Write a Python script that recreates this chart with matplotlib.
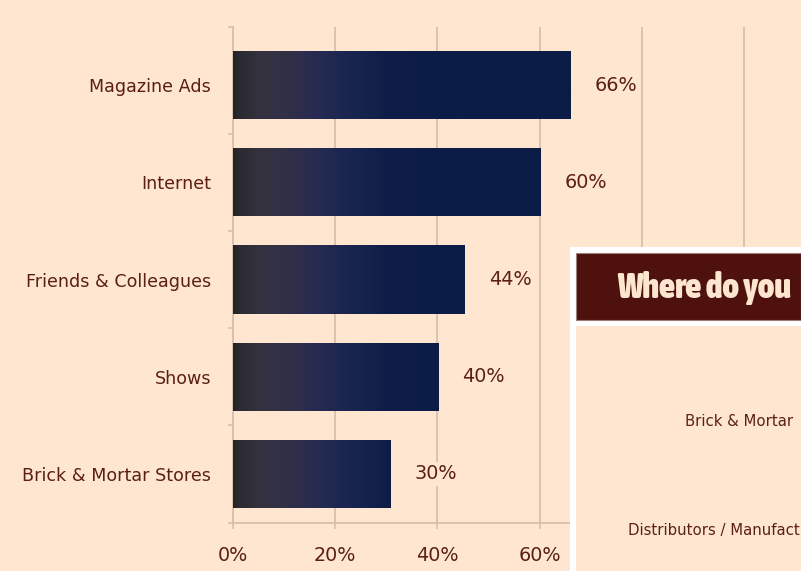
import numpy as np
import matplotlib
matplotlib.use("Agg")
import matplotlib.pyplot as plt
from matplotlib.patches import Rectangle
from matplotlib import font_manager as fm

# ---- data ----
categories = ["Brick & Mortar Stores", "Shows", "Friends & Colleagues", "Internet", "Magazine Ads"]
values = [30.8, 40.1, 45.3, 60.1, 65.9]
value_labels = ["30%", "40%", "44%", "60%", "66%"]
xticks = [0, 20, 40, 60, 80, 100]
xtick_labels = ["0%", "20%", "40%", "60%", "80%", "100%"]
panel_title = "Where do you"
panel_labels = ["Brick & Mortar", "Distributors / Manufacturers"]

BG = "#FEE6D1"
TXT = "#5C1F16"
GRID = "#D6BCAB"
NAVY = (11/255, 28/255, 70/255)

# pick a condensed bold font for the panel title if one exists
title_font = None
cands = []
for f in fm.fontManager.ttflist:
    nm = f.name.lower()
    st = str(f.stretch).lower()
    if ("narrow" in nm or "condensed" in nm or "condensed" in st or "narrow" in st):
        w = f.weight if isinstance(f.weight, int) else (700 if "bold" in str(f.weight) else 400)
        cands.append((-w, f.fname, f))
if cands:
    cands.sort(key=lambda t: (t[0], t[1]))
    title_font = fm.FontProperties(fname=cands[0][2].fname)

W, H = 801, 571
fig = plt.figure(figsize=(W/100, H/100), dpi=100, facecolor=BG)

def fx(px):
    return px / W

def fy(py):
    return 1 - py / H

x0, xr = 232.7, 801
ytop, ybot = 26.7, 523
ax = fig.add_axes([fx(x0), fy(ybot), fx(xr - x0), (ybot - ytop) / H])
ax.set_facecolor(BG)
ppu = 5.115  # pixels per percent
ax.set_xlim(0, (xr - x0) / ppu)
ax.set_ylim(-0.504, 4.6)

ypos = np.arange(len(categories))
bar_h = 0.70

# gradient stops (percent units, rgb)
stops_x = [0, 1, 5, 10, 15, 22, 30, 40, 200]
stops_c = np.array([(36, 36, 39), (42, 42, 47), (52, 50, 62), (50, 48, 70),
                    (42, 44, 80), (26, 38, 80), (15, 30, 72), (11, 28, 70), (11, 28, 70)]) / 255.0

bars = ax.barh(ypos, values, height=bar_h, color=NAVY, zorder=2)
for b, v in zip(bars, values):
    xs = np.linspace(0, v, 400)
    img = np.stack([np.interp(xs, stops_x, stops_c[:, k]) for k in range(3)], axis=-1)[None, :, :]
    y = b.get_y()
    im = ax.imshow(img, extent=[0, v, y, y + bar_h], aspect="auto", zorder=3,
                   interpolation="bilinear", origin="lower")
    im.set_clip_path(b)
ax.set_xlim(0, (xr - x0) / ppu)
ax.set_ylim(-0.504, 4.6)

for yv, v, lab in zip(ypos, values, value_labels):
    ax.annotate(lab, (v, yv), xytext=(46, 0), textcoords="offset pixels",
                ha="center", va="center", fontsize=13.8, color=TXT, zorder=4,
                bbox=dict(boxstyle="square,pad=0.15", fc=BG, ec="none"))

# grid
ax.set_xticks(xticks)
ax.set_xticklabels(xtick_labels, fontsize=13.8, color=TXT)
ax.xaxis.grid(True, color=GRID, linewidth=1.2, zorder=1)
ax.set_axisbelow(True)
ax.tick_params(axis="x", direction="out", length=4.5, width=1.1, color=GRID, pad=12)

# y-axis boundary ticks and category labels
ax.set_yticks([-0.504, 0.5, 1.5, 2.5, 3.5, 4.6])
ax.set_yticklabels([])
ax.tick_params(axis="y", which="major", direction="out", length=3.8, width=1.1, color=GRID)
ax.set_yticks(ypos, minor=True)
ax.set_yticklabels(categories, minor=True, fontsize=12.6, color=TXT)
ax.tick_params(axis="y", which="minor", length=0, pad=15.5)

for s in ["top", "right"]:
    ax.spines[s].set_visible(False)
ax.spines["left"].set_color(GRID)
ax.spines["left"].set_linewidth(1.2)
ax.spines["bottom"].set_color(GRID)
ax.spines["bottom"].set_linewidth(1.2)

# ---- overlaid panel ----
def rect_px(l, t, r, b, **kw):
    fig.add_artist(Rectangle((fx(l), fy(b)), fx(r - l), (b - t) / H,
                             transform=fig.transFigure, **kw))

rect_px(570, 247.3, 801, 571, facecolor="white", edgecolor="none", zorder=10)
rect_px(575.5, 253.3, 801, 320.3, facecolor="#4E110E", edgecolor="#9A7E7A", linewidth=0.8, zorder=11)
rect_px(575.7, 326, 801, 571, facecolor=BG, edgecolor="none", zorder=11)

if title_font is not None:
    title_font.set_size(25)
    fig.text(fx(617), fy(298), panel_title, fontproperties=title_font, color="#FDE6CF",
             ha="left", va="baseline", zorder=12)
else:
    fig.text(fx(617), fy(297), panel_title, fontsize=19, color="#FDE6CF",
             family="DejaVu Sans", weight="bold",
             ha="left", va="baseline", zorder=12)
fig.text(fx(685), fy(422), panel_labels[0], fontsize=10.7, color=TXT,
         ha="left", va="center", zorder=12)
fig.text(fx(628), fy(531), panel_labels[1], fontsize=10.7, color=TXT,
         ha="left", va="center", zorder=12)

fig.savefig("out.png", dpi=100, facecolor=BG)
